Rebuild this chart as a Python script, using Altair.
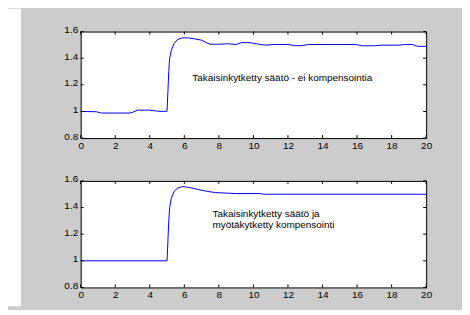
import altair as alt
import pandas as pd

# --- data ---
t_top = [0, 0.9, 1.2, 2.8, 3.0, 3.3, 4.0, 4.4, 4.8, 5.0, 5.05, 5.1, 5.15, 5.25, 5.4, 5.6,
         5.9, 6.2, 6.6, 7.0, 7.3, 7.5, 8.0, 8.5, 9.0, 9.3, 9.8, 10.3, 10.7, 11.2, 12.0,
         12.4, 12.8, 13.2, 15.9, 16.3, 17.0, 17.4, 18.4, 18.8, 19.2, 19.5, 20.0]
y_top = [1.000, 0.998, 0.988, 0.988, 0.993, 1.010, 1.010, 1.003, 1.000, 1.002, 1.15, 1.30,
         1.40, 1.46, 1.51, 1.54, 1.553, 1.553, 1.545, 1.535, 1.515, 1.505, 1.505, 1.508,
         1.503, 1.517, 1.517, 1.505, 1.498, 1.503, 1.503, 1.494, 1.494, 1.503, 1.503,
         1.493, 1.493, 1.498, 1.498, 1.503, 1.503, 1.489, 1.489]

t_bot = [0, 5.0, 5.05, 5.1, 5.15, 5.25, 5.4, 5.6, 5.9, 6.3, 6.8, 7.3, 7.8, 8.5, 9.0,
         10.4, 10.6, 20.0]
y_bot = [1.0, 1.0, 1.15, 1.30, 1.40, 1.47, 1.52, 1.545, 1.558, 1.550, 1.535, 1.522,
         1.512, 1.508, 1.505, 1.505, 1.500, 1.500]

x_ticks = [0, 2, 4, 6, 8, 10, 12, 14, 16, 18, 20]
y_ticks = [0.8, 1.0, 1.2, 1.4, 1.6]

text_top = ["Takaisinkytketty säätö - ei kompensointia"]
text_top_x = [6.46]
text_top_y = [1.25]

text_bot = ["Takaisinkytketty säätö ja", "myötäkytketty kompensointi"]
text_bot_x = [7.63, 7.63]
text_bot_y = [1.353, 1.266]

W, H = 347, 107
FONT = "Liberation Sans"
GRAY = "#cccccc"

xs = alt.Scale(domain=[0, 20], nice=False, zero=False)
ys = alt.Scale(domain=[0.8, 1.6], nice=False, zero=False)

x_axis = alt.Axis(values=x_ticks, format="d", title=None, ticks=False, domain=False,
                  grid=False, labelFont=FONT, labelFontSize=10, labelColor="black",
                  labelPadding=2, labelFlush=False, zindex=1)
y_axis = alt.Axis(values=y_ticks, format="~g", title=None, ticks=False, domain=False,
                  grid=False, labelFont=FONT, labelFontSize=10, labelColor="black",
                  labelPadding=3, labelFlush=False, labelOffset=-2, zindex=1)


def panel(t, v, texts, tx, ty, bg_top, bg_bot):
    one = pd.DataFrame({"a": [0]})
    # thin background-coloured rects that only fix the panel's extent
    edge_l = alt.Chart(one).mark_rect(color=GRAY).encode(
        x=alt.value(-59), x2=alt.value(-57), y=alt.value(bg_top), y2=alt.value(bg_bot))
    edge_r = alt.Chart(one).mark_rect(color=GRAY).encode(
        x=alt.value(380), x2=alt.value(382), y=alt.value(bg_top), y2=alt.value(bg_bot))
    line = alt.Chart(pd.DataFrame({"t": t, "v": v})).mark_line(
        color="#0000ff", strokeWidth=1).encode(
        x=alt.X("t:Q", scale=xs, axis=x_axis),
        y=alt.Y("v:Q", scale=ys, axis=y_axis))
    xt = pd.DataFrame({"t": x_ticks})
    yt = pd.DataFrame({"v": y_ticks})
    tick_top = alt.Chart(xt).mark_rule(color="black").encode(
        x=alt.X("t:Q", scale=xs, axis=x_axis), y=alt.value(0), y2=alt.value(3))
    tick_bot = alt.Chart(xt).mark_rule(color="black").encode(
        x=alt.X("t:Q", scale=xs, axis=x_axis), y=alt.value(H - 3), y2=alt.value(H))
    tick_left = alt.Chart(yt).mark_rule(color="black").encode(
        y=alt.Y("v:Q", scale=ys, axis=y_axis), x=alt.value(0), x2=alt.value(3))
    tick_right = alt.Chart(yt).mark_rule(color="black").encode(
        y=alt.Y("v:Q", scale=ys, axis=y_axis), x=alt.value(W - 3), x2=alt.value(W))
    txt = alt.Chart(pd.DataFrame({"s": texts, "t": tx, "v": ty})).mark_text(
        align="left", baseline="middle", font=FONT, fontSize=10, color="black").encode(
        x=alt.X("t:Q", scale=xs, axis=x_axis), y=alt.Y("v:Q", scale=ys, axis=y_axis),
        text="s:N")
    return alt.layer(edge_l, edge_r, line, tick_top, tick_bot, tick_left, tick_right, txt).properties(
        width=W, height=H, view=alt.ViewBackground(fill="white", stroke="black", strokeWidth=1))


p1 = panel(t_top, y_top, text_top, text_top_x, text_top_y, -21, 129)
p2 = panel(t_bot, y_bot, text_bot, text_bot_x, text_bot_y, -19, 128)

# white strip at the far left of the page
strip = alt.Chart(pd.DataFrame({"a": [0]})).mark_rect(color="white").encode(
    x=alt.value(0), x2=alt.value(13), y=alt.value(-23), y2=alt.value(276)
).properties(width=13, height=1,
             view=alt.ViewBackground(fill="white", stroke="transparent", strokeWidth=0))

chart = alt.hconcat(strip, alt.vconcat(p1, p2, spacing=0), spacing=0).properties(
    padding={"left": 0, "top": 0, "right": 0, "bottom": 0}
).configure(background=GRAY)

chart.save("out.html", embed_options={"renderer": "svg", "actions": False})
